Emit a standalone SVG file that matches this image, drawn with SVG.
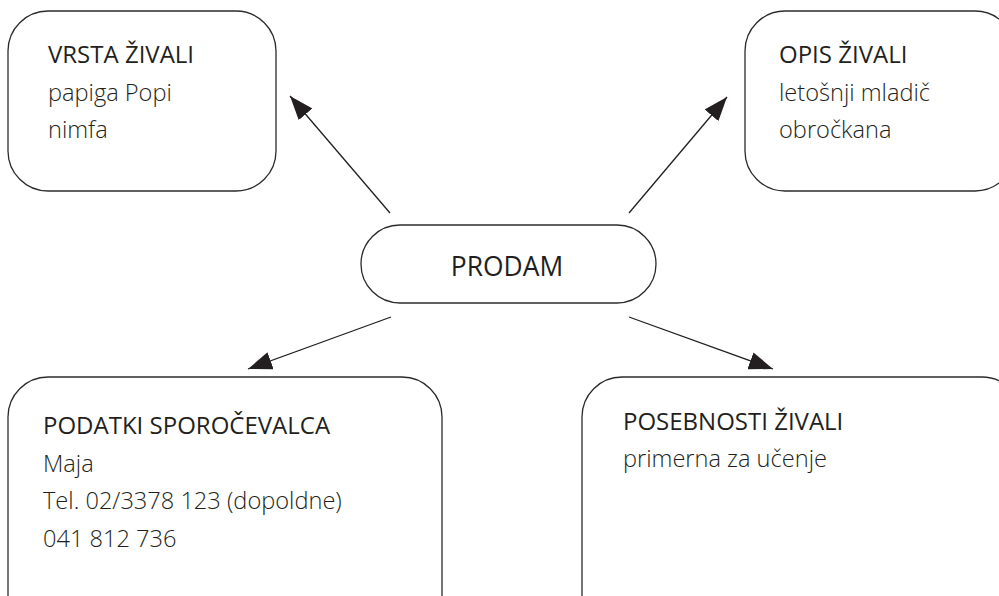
<svg xmlns="http://www.w3.org/2000/svg" width="999" height="596" viewBox="0 0 999 596">
<style>
.box{fill:#fff;stroke:#2b2b2b;stroke-width:1.3}
.h{font-family:"Open Sans","Noto Sans","Liberation Sans",sans-serif;font-size:24px;fill:#231f20}
.b{font-family:"Open Sans","Noto Sans","Liberation Sans",sans-serif;font-size:23.6px;font-weight:300;fill:#231f20}
.c{stroke:#231f20;stroke-width:1.3;fill:none}
</style>
<defs>
<marker id="ah" viewBox="0 0 24 18" refX="24" refY="9" markerWidth="24" markerHeight="18" markerUnits="userSpaceOnUse" orient="auto">
<path d="M0,0 L24,9 L0,18 Z" fill="#231f20"/>
</marker>
</defs>
<rect width="999" height="596" fill="#fff"/>
<g id="connectors">
<line class="c" x1="390" y1="213" x2="290" y2="96" marker-end="url(#ah)"/>
<line class="c" x1="629" y1="213" x2="727" y2="97" marker-end="url(#ah)"/>
<line class="c" x1="391" y1="317" x2="248" y2="369" marker-end="url(#ah)"/>
<line class="c" x1="629" y1="317" x2="773" y2="369" marker-end="url(#ah)"/>
</g>
<g id="vrsta">
<rect class="box" x="8" y="11" width="268" height="180" rx="40"/>
<text class="h" x="48" y="63">VRSTA ŽIVALI</text>
<text class="b" x="48" y="101">papiga Popi</text>
<text class="b" x="48" y="138">nimfa</text>
</g>
<g id="opis">
<rect class="box" x="745" y="11" width="270" height="180" rx="40"/>
<text class="h" x="779" y="63">OPIS ŽIVALI</text>
<text class="b" x="779" y="101">letošnji mladič</text>
<text class="b" x="779" y="138">obročkana</text>
</g>
<g id="prodam">
<rect class="box" x="361" y="225" width="295" height="78" rx="39"/>
<text class="h" x="507" y="276" text-anchor="middle" style="font-size:26.4px">PRODAM</text>
</g>
<g id="podatki">
<rect class="box" x="8" y="377" width="434" height="260" rx="40"/>
<text class="h" x="43" y="434">PODATKI SPOROČEVALCA</text>
<text class="b" x="43" y="472">Maja</text>
<text class="b" x="43" y="509">Tel. 02/3378 123 (dopoldne)</text>
<text class="b" x="43" y="547">041 812 736</text>
</g>
<g id="posebnosti">
<rect class="box" x="582" y="377" width="440" height="260" rx="40"/>
<text class="h" x="623" y="430">POSEBNOSTI ŽIVALI</text>
<text class="b" x="623" y="467">primerna za učenje</text>
</g>
</svg>
